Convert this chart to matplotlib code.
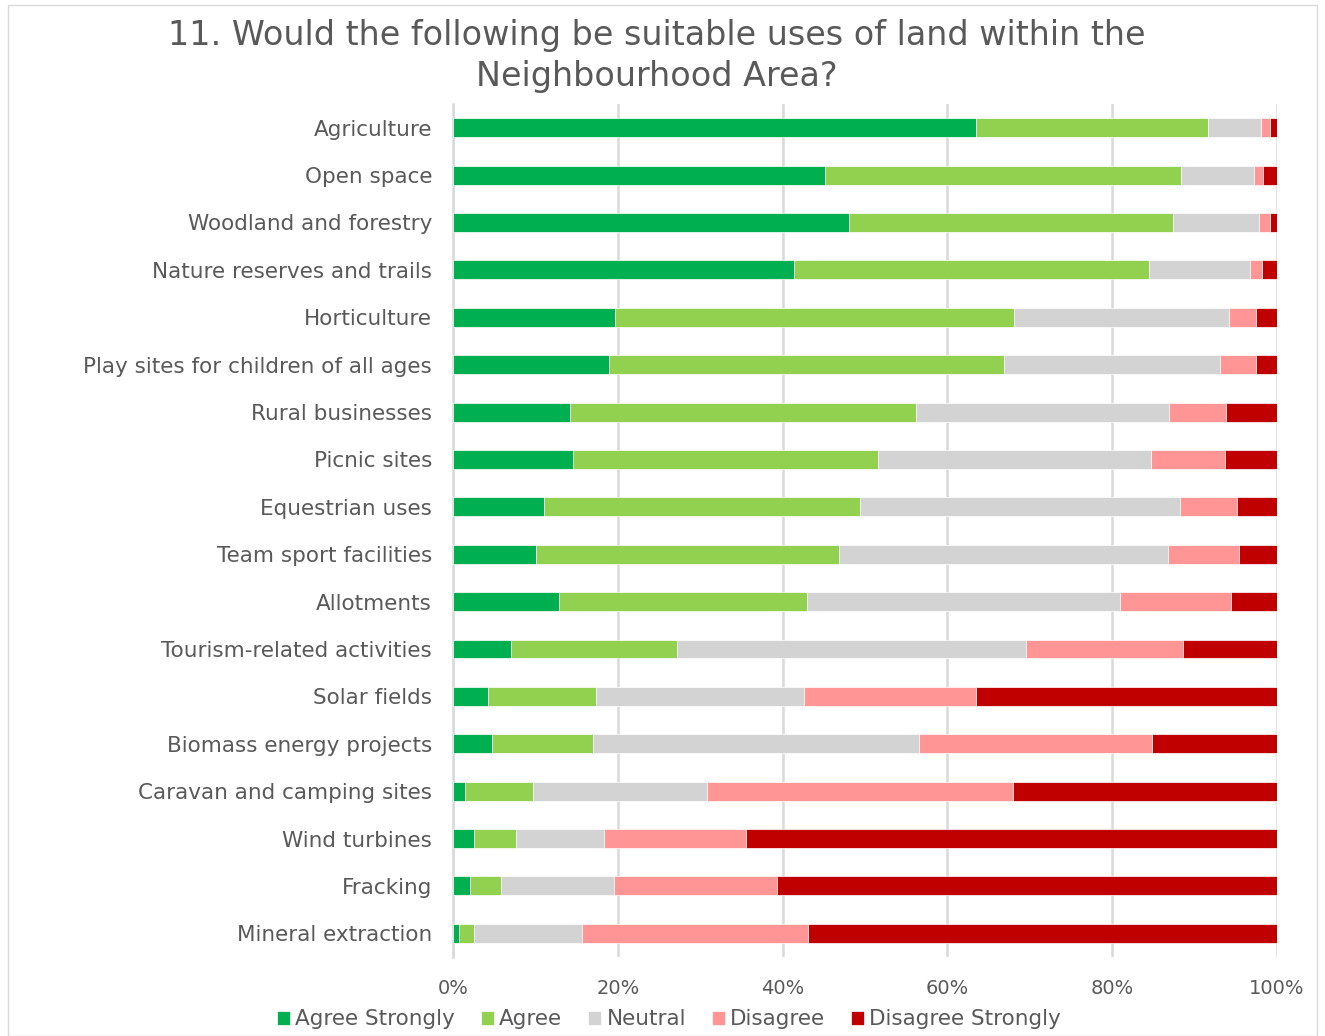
import numpy as np
import matplotlib
matplotlib.use("Agg")
import matplotlib.pyplot as plt
from matplotlib.patches import Rectangle

categories = [
    "Agriculture", "Open space", "Woodland and forestry", "Nature reserves and trails",
    "Horticulture", "Play sites for children of all ages", "Rural businesses", "Picnic sites",
    "Equestrian uses", "Team sport facilities", "Allotments", "Tourism-related activities",
    "Solar fields", "Biomass energy projects", "Caravan and camping sites", "Wind turbines",
    "Fracking", "Mineral extraction",
]
agree_strongly = [63.5, 45.1, 48.1, 41.4, 19.7, 18.9, 14.2, 14.6, 11.1, 10.1, 12.9, 7.0, 4.2, 4.7, 1.5, 2.5, 2.1, 0.7]
agree = [28.1, 43.3, 39.3, 43.1, 48.4, 48.0, 42.0, 37.0, 38.3, 36.8, 30.1, 20.2, 13.2, 12.3, 8.2, 5.2, 3.7, 1.8]
neutral = [6.5, 8.8, 10.4, 12.2, 26.1, 26.2, 30.7, 33.1, 38.8, 39.9, 37.9, 42.3, 25.2, 39.5, 21.1, 10.6, 13.7, 13.2]
disagree = [1.1, 1.1, 1.3, 1.5, 3.3, 4.4, 6.9, 9.0, 7.0, 8.6, 13.5, 19.1, 20.9, 28.3, 37.1, 17.2, 19.8, 27.4]
disagree_strongly = [0.8, 1.7, 0.9, 1.8, 2.5, 2.5, 6.2, 6.3, 4.8, 4.6, 5.6, 11.4, 36.5, 15.2, 32.1, 64.5, 60.7, 56.9]

series = [
    ("Agree Strongly", agree_strongly, "#00B050"),
    ("Agree", agree, "#92D050"),
    ("Neutral", neutral, "#D3D3D3"),
    ("Disagree", disagree, "#FF9595"),
    ("Disagree Strongly", disagree_strongly, "#C00000"),
]

text_col = "#595959"
plt.rcParams["font.family"] = ["DejaVu Sans"]

fig = plt.figure(figsize=(13.25, 10.36), dpi=100)
ax = fig.add_axes([0.3419, 0.0762, 0.6219, 0.8234])

y = np.arange(len(categories))
left = np.zeros(len(categories))
for name, vals, col in series:
    vals = np.array(vals) / 100.0
    ax.barh(y, vals, left=left, height=0.4, color=col, label=name,
            edgecolor="white", linewidth=0.5, zorder=3)
    left += vals

ax.set_ylim(len(categories) - 0.5, -0.5)
ax.set_xlim(0, 1)
ax.set_yticks(y)
ax.set_yticklabels(categories, fontsize=15.5, color=text_col)
ax.set_xticks(np.linspace(0, 1, 6))
ax.set_xticklabels(["0%", "20%", "40%", "60%", "80%", "100%"], fontsize=14, color=text_col)
ax.tick_params(axis="y", length=0, pad=15)
ax.tick_params(axis="x", length=0, pad=16)
ax.grid(axis="x", color="#D9D9D9", linewidth=1.8, zorder=0)
for s in ["top", "right", "bottom"]:
    ax.spines[s].set_visible(False)
ax.spines["left"].set_color("#D9D9D9")
ax.spines["left"].set_linewidth(1.8)

fig.text(0.496, 0.946, "11. Would the following be suitable uses of land within the\nNeighbourhood Area?",
         ha="center", va="center", fontsize=24, color=text_col, linespacing=1.33)

fig.legend(loc="center", bbox_to_anchor=(0.505, 0.016), ncol=5, frameon=False,
           fontsize=15.5, labelcolor=text_col, handlelength=0.6, handleheight=0.6,
           handletextpad=0.25, columnspacing=1.2)

fig.patches.append(Rectangle((0.006, 0.0), 0.988, 0.995, transform=fig.transFigure,
                             fill=False, edgecolor="#D9D9D9", linewidth=1))

fig.savefig("out.png", dpi=100)
